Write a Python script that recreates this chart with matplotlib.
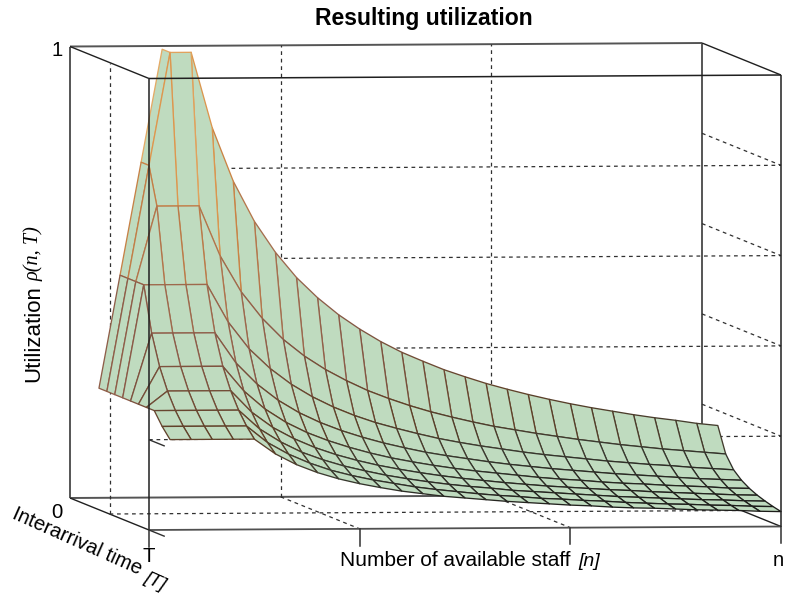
import numpy as np
import matplotlib
matplotlib.use('Agg')
import matplotlib.pyplot as plt
from matplotlib.collections import PolyCollection
from matplotlib.colors import LinearSegmentedColormap

plt.rcParams['font.family'] = ['Liberation Sans', 'DejaVu Sans']

# staff (as a share of the axis) and interarrival time (same)
staff = [k / 30 for k in range(1, 31)]
interarrival = [0.1, 0.2, 0.3, 0.4, 0.5, 0.6, 0.7, 0.8, 0.9, 1.0]

# utilization, one row per interarrival time
nan = float('nan')
rho_t01 = [.25, .5, .75, 1.0] + [nan] * 26
rho_t02 = [.25, .5, .75, 1.0, 1.0, .833, .714, .625, .556, .5, .455, .417, .385, .357, .333, .313, .294, .278, .263, .25, .238, .227, .217, .208, .2, .192, .185, .179, .172, .167]
rho_t03 = [.25, .5, .667, .667, .667, .556, .476, .417, .37, .333, .303, .278, .256, .238, .222, .208, .196, .185, .175, .167, .159, .152, .145, .139, .133, .128, .123, .119, .115, .111]
rho_t04 = [.25, .5, .5, .5, .5, .417, .357, .313, .278, .25, .227, .208, .192, .179, .167, .156, .147, .139, .132, .125, .119, .114, .109, .104, .1, .096, .093, .089, .086, .083]
rho_t05 = [.25, .4, .4, .4, .4, .333, .286, .25, .222, .2, .182, .167, .154, .143, .133, .125, .118, .111, .105, .1, .095, .091, .087, .083, .08, .077, .074, .071, .069, .067]
rho_t06 = [.25, .333, .333, .333, .333, .278, .238, .208, .185, .167, .152, .139, .128, .119, .111, .104, .098, .093, .088, .083, .079, .076, .072, .069, .067, .064, .062, .06, .057, .056]
rho_t07 = [.25, .286, .286, .286, .286, .238, .204, .179, .159, .143, .13, .119, .11, .102, .095, .089, .084, .079, .075, .071, .068, .065, .062, .06, .057, .055, .053, .051, .049, .048]
rho_t08 = [.25, .25, .25, .25, .25, .208, .179, .156, .139, .125, .114, .104, .096, .089, .083, .078, .074, .069, .066, .063, .06, .057, .054, .052, .05, .048, .046, .045, .043, .042]
rho_t09 = [.222, .222, .222, .222, .222, .185, .159, .139, .123, .111, .101, .093, .085, .079, .074, .069, .065, .062, .058, .056, .053, .051, .048, .046, .044, .043, .041, .04, .038, .037]
rho_t10 = [.2, .2, .2, .2, .2, .167, .143, .125, .111, .1, .091, .083, .077, .071, .067, .063, .059, .056, .053, .05, .048, .045, .043, .042, .04, .038, .037, .036, .034, .033]
rho = np.array([rho_t01, rho_t02, rho_t03, rho_t04, rho_t05, rho_t06, rho_t07, rho_t08, rho_t09, rho_t10])

grid_rho = [0.2, 0.4, 0.6, 0.8]
grid_staff = [1 / 3, 2 / 3]


def proj(n, t, r):
    # persp() style box, everything stays parallel
    x = 70 + 632 * np.asarray(n) + 79 * np.asarray(t)
    y = 498 - 3.5 * np.asarray(n) + 32 * np.asarray(t) - 451.5 * np.asarray(r)
    return x, y


def line3(ax, a, b, **kw):
    xa, ya = proj(*a)
    xb, yb = proj(*b)
    ax.plot([xa, xb], [ya, yb], solid_capstyle='butt', **kw)


fig = plt.figure(figsize=(7.85, 5.94), dpi=100)
ax = fig.add_axes([0, 0, 1, 1])
ax.set_xlim(0, 785)
ax.set_ylim(594, 0)
ax.axis('off')

dash = dict(color='#303030', lw=0.9, ls=(0, (3, 3)), zorder=1)
solid = dict(color='#555555', lw=1.4, zorder=1)
thin = dict(color='#202020', lw=1.0, zorder=1)

# back of the box, hidden by the surface
line3(ax, (0, 0, 0), (0, 0, 1), **solid)
line3(ax, (0, 0, 1), (1, 0, 1), **solid)
line3(ax, (1, 0, 0), (1, 0, 1), **solid)
line3(ax, (0, 0, 0), (1, 0, 0), **solid)
line3(ax, (0, 0, 0), (0, 1, 0), **thin)
line3(ax, (0, 0, 1), (0, 1, 1), **thin)
line3(ax, (1, 0, 1), (1, 1, 1), **thin)
line3(ax, (1, 0, 0), (1, 1, 0), **thin)

# dashed grid
for s in grid_staff:
    line3(ax, (s, 0, 0), (s, 0, 1), **dash)
    line3(ax, (s, 0, 0), (s, 1, 0), **dash)
line3(ax, (0, 0.5, 0), (0, 0.5, 1), **dash)
line3(ax, (0, 0.5, 0), (1, 0.5, 0), **dash)
line3(ax, (1, 0.5, 0), (1, 0.5, 0.03), **solid)
for r in grid_rho:
    line3(ax, (0, 1, r), (1, 1, r), **dash)
    line3(ax, (1, 0, r), (1, 1, r), **dash)

# surface, painted back to front
cmap = LinearSegmentedColormap.from_list('edges', [
    (0.0, '#111111'), (0.12, '#3a3a30'), (0.2, '#5e4028'), (0.35, '#8a5a48'),
    (0.5, '#a87050'), (0.7, '#d88a40'), (1.0, '#ecc080')])
polys, vals = [], []
for i in range(len(interarrival) - 1):
    for j in range(len(staff) - 2, -1, -1):
        cell = [rho[i, j], rho[i, j + 1], rho[i + 1, j + 1], rho[i + 1, j]]
        if np.isnan(cell).any():
            continue
        xa, ya = proj([staff[j], staff[j + 1], staff[j + 1], staff[j]],
                      [interarrival[i], interarrival[i], interarrival[i + 1], interarrival[i + 1]], cell)
        polys.append(np.column_stack([xa, ya]))
        vals.append(np.mean(cell))
pc = PolyCollection(polys, facecolors='#bfdbbf', edgecolors=cmap(np.clip(np.array(vals), 0, 1)),
                    linewidths=0.95, zorder=2)
ax.add_collection(pc)

# front of the box, over the surface
front = dict(color='#202020', lw=1.1, zorder=3)
line3(ax, (0, 1, 0), (0, 1, 1), **front)
line3(ax, (0, 1, 1), (1, 1, 1), **front)
line3(ax, (0, 1, 0), (1, 1, 0), color='#505050', lw=1.3, zorder=3)
line3(ax, (1, 1, 0), (1, 1, 1), **front)

# ticks
for s, low in [(0, 17), (1 / 3, 17), (2 / 3, 16), (1, 16)]:
    x0, y0 = proj(s, 1, 0)
    ax.plot([x0, x0], [y0, y0 + low], color='#303030', lw=1.1, zorder=3)
line3(ax, (0, 1, 0), (0, 1.2, 0), color='#303030', lw=1.0, zorder=3)
line3(ax, (0, 1, 0.2), (0, 1.2, 0.2), color='#303030', lw=1.0, zorder=3)

size = 14.6
ax.text(424, 19, 'Resulting utilization', fontsize=16.6, fontweight='bold', ha='center', va='center', color='black')
ax.text(57, 50, '1', fontsize=size, ha='center', va='center')
ax.text(57, 513, '0', fontsize=size, ha='center', va='center')
ax.text(149, 556, 'T', fontsize=size, ha='center', va='center')
ax.text(778, 561, 'n', fontsize=size, ha='center', va='center')
ax.text(34, 382, 'Utilization', fontsize=16, rotation=90, ha='center', va='bottom')
ax.text(34, 281, '\u03c1(n, T)', fontsize=size, rotation=90, ha='center', va='bottom',
        family='Liberation Serif', style='italic')
ax.text(13, 513, 'Interarrival time', fontsize=size, rotation=-24, rotation_mode='anchor', ha='left', va='center')
ax.text(145, 577, '[T]', fontsize=13.5, rotation=-24, rotation_mode='anchor', ha='left', va='center', style='italic')
ax.text(340, 561, 'Number of available staff', fontsize=15, ha='left', va='center')
ax.text(578, 561, '[n]', fontsize=14, ha='left', va='center', style='italic')

fig.savefig('out.png', dpi=100)
